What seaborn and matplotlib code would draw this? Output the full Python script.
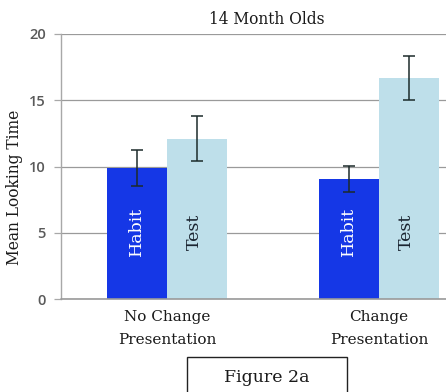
import matplotlib
matplotlib.use("Agg")
import matplotlib.pyplot as plt
from matplotlib.patches import Rectangle
import seaborn as sns
import pandas as pd

# Mean looking time (s) per presentation condition and phase, with error bars
conditions = ["No Change\nPresentation", "Change\nPresentation"]
phases = ["Habit", "Test"]
habit_means = [9.9, 9.05]
test_means = [12.1, 16.65]
habit_err = [1.35, 1.0]
test_err = [1.7, 1.65]

df = pd.DataFrame({
    "condition": conditions * 2,
    "phase": ["Habit"] * 2 + ["Test"] * 2,
    "value": habit_means + test_means,
})
errs = {"Habit": habit_err, "Test": test_err}

sns.set_style("white")
plt.rcParams["font.family"] = ["DejaVu Serif"]

palette = {"Habit": "#1537E6", "Test": "#BEDFEA"}
label_colors = {"Habit": "white", "Test": "#1a2430"}

fig = plt.figure(figsize=(4.46, 3.92), dpi=100)
ax = fig.add_axes([61 / 446, 92.7 / 392, 424 / 446, 265.4 / 392])

sns.barplot(data=df, x="condition", y="value", hue="phase", order=conditions,
            hue_order=phases, palette=palette, width=0.57, gap=0,
            errorbar=None, saturation=1, legend=False, ax=ax, zorder=2,
            linewidth=0, edgecolor="none")

# error bars and rotated phase labels on each bar
for container, phase in zip(ax.containers, phases):
    for i, bar in enumerate(container):
        cx = bar.get_x() + bar.get_width() / 2
        h = bar.get_height()
        ax.errorbar(cx, h, yerr=errs[phase][i], fmt="none", ecolor="#1c2b2b",
                    elinewidth=1.1, capsize=4.2, capthick=1.1, zorder=3)
        dx = -0.015 if phase == "Test" else 0
        ax.text(cx + dx, 5.1, phase, rotation=90, ha="center", va="center",
                color=label_colors[phase], fontsize=12.5, zorder=4)

ax.set_ylim(0, 20)
ax.set_xlim(-0.5, 1.5)
ax.set_yticks([0, 5, 10, 15, 20])
ax.yaxis.grid(True, color="#9a9a9a", linewidth=0.9, zorder=0)
ax.set_axisbelow(True)
ax.axhline(0, color="#9a9a9a", linewidth=1.2, zorder=5, clip_on=False)
for s in ["top", "right", "bottom"]:
    ax.spines[s].set_visible(False)
ax.spines["left"].set_color("#a8a8a8")
ax.spines["left"].set_linewidth(1.0)
ax.tick_params(axis="y", which="both", left=True, length=5, width=0.9,
               color="#a8a8a8", pad=6)
ax.tick_params(axis="x", length=0, pad=8)
for lab in ax.get_yticklabels():
    lab.set_fontfamily("Open Sans")
    lab.set_fontweight("semibold")
    lab.set_color("#5a5a5a")
    lab.set_fontsize(10.5)
for lab in ax.get_xticklabels():
    lab.set_fontsize(11)
    lab.set_color("#1a1a1a")
    lab.set_linespacing(1.8)
ax.set_xlabel("")
ax.set_ylabel("")

fig.text(15 / 446, 1 - 187 / 392, "Mean Looking Time", rotation=90,
         ha="center", va="center", fontsize=11.2, color="#1a1a1a")
fig.text(267 / 446, 1 - 20 / 392, "14 Month Olds", ha="center", va="center",
         fontsize=11.2, color="#1a1a1a")

fig.patches.append(Rectangle((187 / 446, -0.05), 160 / 446, 0.05 + 35 / 392,
                             transform=fig.transFigure, fill=False,
                             edgecolor="#222222", linewidth=1.0))
fig.text(267 / 446, 1 - 377 / 392, "Figure 2a", ha="center", va="center",
         fontsize=12.5, color="#1a1a1a")

fig.savefig("out.png", dpi=100)
